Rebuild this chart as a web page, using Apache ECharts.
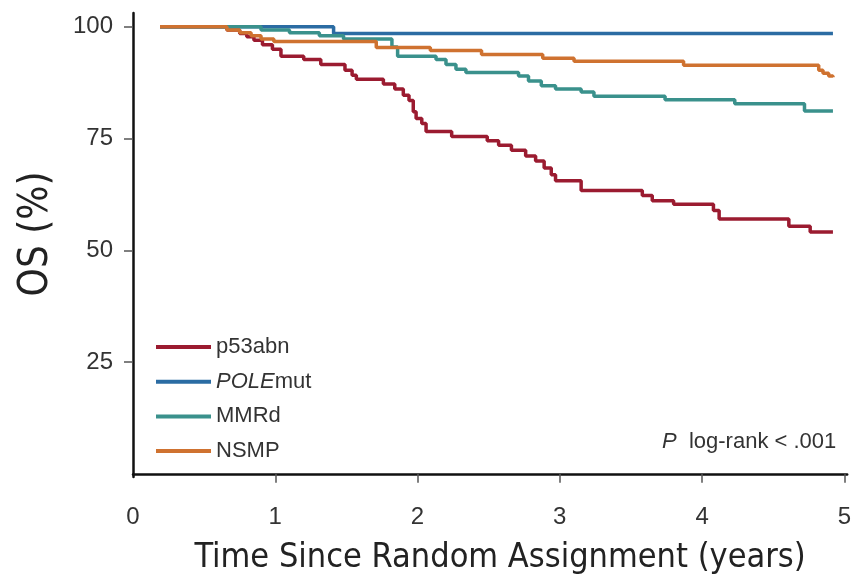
<!DOCTYPE html>
<html>
<head>
<meta charset="utf-8">
<script src="https://cdn.jsdelivr.net/npm/echarts@6/dist/echarts.min.js"></script>
<style>
  html, body { margin: 0; padding: 0; background: #fff; }
  #chart { width: 854px; height: 580px; }
</style>
</head>
<body>
<div id="chart"></div>
<script>
// Kaplan-Meier curves (years, OS %)
var p53Times = [0.19, 0.66, 0.75, 0.80, 0.85, 0.91, 0.98, 1.04, 1.20, 1.32, 1.49, 1.54, 1.57, 1.76, 1.84, 1.90, 1.94, 1.97, 1.99, 2.03, 2.06, 2.24, 2.49, 2.57, 2.66, 2.76, 2.83, 2.89, 2.94, 2.97, 3.15, 3.58, 3.65, 3.80, 4.08, 4.12, 4.61, 4.76, 4.92];
var p53Surv = [100, 99.3, 98.5, 97.8, 97.0, 96.0, 95.0, 93.4, 92.7, 91.6, 90.3, 89.2, 88.3, 87.2, 86.1, 84.7, 83.5, 81.0, 79.5, 78.4, 76.6, 75.5, 74.5, 73.5, 72.4, 71.1, 70.0, 68.4, 66.9, 65.6, 63.4, 62.3, 61.1, 60.3, 58.9, 57.0, 55.4, 54.1, 54.1];

var poleTimes = [0.19, 1.41, 4.92];
var poleSurv = [100, 98.5, 98.5];

var mmrTimes = [0.19, 0.90, 1.10, 1.31, 1.48, 1.82, 1.86, 2.13, 2.20, 2.27, 2.34, 2.71, 2.78, 2.87, 2.97, 3.15, 3.24, 3.74, 4.23, 4.72, 4.92];
var mmrSurv = [100, 99.3, 98.7, 98.0, 97.3, 95.5, 93.4, 92.7, 91.6, 90.5, 89.8, 89.0, 87.9, 86.8, 86.1, 85.4, 84.5, 83.7, 82.8, 81.2, 81.2];

var nsmpTimes = [0.19, 0.66, 0.75, 0.83, 0.90, 0.99, 1.71, 2.09, 2.45, 2.88, 3.10, 3.87, 4.82, 4.85, 4.89, 4.92];
var nsmpSurv = [100, 99.3, 98.7, 98.0, 97.3, 96.7, 95.4, 94.7, 93.8, 93.0, 92.3, 91.4, 90.3, 89.6, 89.0, 88.7];

var groupNames = ['p53abn', 'POLEmut', 'MMRd', 'NSMP'];
var groupColors = ['#9b1b30', '#2b6ca3', '#3a918c', '#cf7230'];

var xLabels = [0, 1, 2, 3, 4, 5];
var xTicks = [1, 2, 3, 4, 5];
var yLabels = [25, 50, 75, 100];

var narrowFont = '"Liberation Sans Narrow", "DejaVu Sans Condensed", sans-serif';
var plainFont = '"Liberation Sans", Arial, sans-serif';

function zip(xs, ys) {
    return xs.map(function (x, i) { return [x, ys[i]]; });
}

var curves = [zip(p53Times, p53Surv), zip(poleTimes, poleSurv), zip(mmrTimes, mmrSurv), zip(nsmpTimes, nsmpSurv)];

var chart = echarts.init(document.getElementById('chart'));

var option = {
    animation: false,
    backgroundColor: '#fff',
    grid: { left: 133, right: 6, top: 13, bottom: 99 },
    legend: {
        orient: 'vertical',
        left: 151,
        top: 331,
        icon: 'rect',
        itemWidth: 55,
        itemHeight: 4,
        itemGap: 12.7,
        data: groupNames,
        textStyle: {
            fontFamily: plainFont,
            fontSize: 22,
            color: '#333',
            rich: {
                it: { fontFamily: plainFont, fontSize: 22, color: '#333', fontStyle: 'italic' }
            }
        },
        formatter: function (name) {
            if (name === 'POLEmut') return '{it|POLE}mut';
            return name;
        }
    },
    xAxis: {
        type: 'value',
        min: 0,
        max: 5.02,
        name: 'Time Since Random Assignment (years)',
        nameLocation: 'middle',
        nameGap: 64,
        nameTextStyle: { fontFamily: narrowFont, fontSize: 34, color: '#222', padding: [0, 0, 0, 20] },
        axisLine: { lineStyle: { color: '#111', width: 2.5 } },
        axisTick: { customValues: xTicks, length: 9, lineStyle: { color: '#555', width: 1.5 } },
        axisLabel: { customValues: xLabels, margin: 28, fontFamily: plainFont, fontSize: 24, color: '#333' },
        splitLine: { show: false }
    },
    yAxis: {
        type: 'value',
        min: -0.7,
        max: 103.1,
        name: 'OS (%)',
        nameLocation: 'middle',
        nameGap: 76,
        nameTextStyle: { fontFamily: narrowFont, fontSize: 40, color: '#222', padding: [0, 0, 0, 22] },
        axisLine: { show: true, lineStyle: { color: '#111', width: 2.5 } },
        axisTick: { show: true, customValues: yLabels, length: 9, lineStyle: { color: '#555', width: 1.5 } },
        axisLabel: { customValues: yLabels, margin: 20, fontFamily: plainFont, fontSize: 24, color: '#333' },
        splitLine: { show: false }
    },
    graphic: [{
        type: 'text',
        left: 662,
        top: 431,
        style: {
            text: '{it|P}  log-rank < .001',
            font: '22px ' + plainFont,
            fill: '#333',
            rich: {
                it: { fontStyle: 'italic', fontSize: 22, fontFamily: plainFont, fill: '#333' }
            }
        }
    }],
    series: curves.map(function (data, i) {
        return {
            name: groupNames[i],
            type: 'line',
            step: 'end',
            symbol: 'none',
            data: data,
            color: groupColors[i],
            lineStyle: { width: 3.5, color: groupColors[i] }
        };
    })
};

chart.setOption(option);
</script>
</body>
</html>
